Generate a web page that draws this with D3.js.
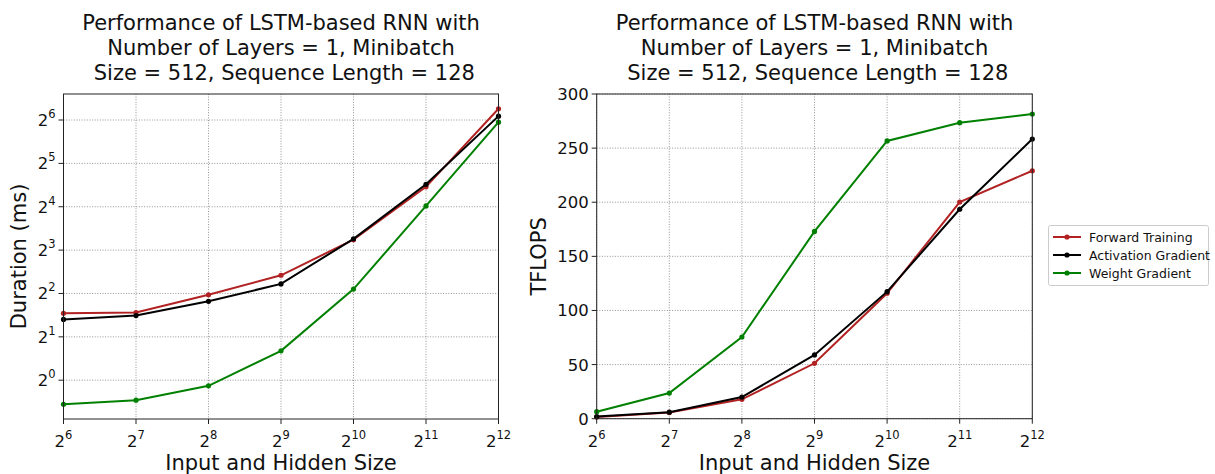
<!DOCTYPE html>
<html>
<head>
<meta charset="utf-8">
<script src="https://cdn.jsdelivr.net/npm/d3@7"></script>
<style>
  html, body { margin: 0; padding: 0; background: #fff; }
  svg { display: block; font-family: "DejaVu Sans", sans-serif; }
</style>
</head>
<body>
<svg id="chart" width="1215" height="474"></svg>
<script>
// ---- data ----
const sizes = [64, 128, 256, 512, 1024, 2048, 4096];
const xTickExponents = [6, 7, 8, 9, 10, 11, 12];
const seriesNames = ["Forward Training", "Activation Gradient", "Weight Gradient"];
const seriesColors = ["#b22222", "#000000", "#008000"];

// Duration (ms)
const durationForward = [2.91, 2.95, 3.92, 5.35, 9.45, 22.0, 76.6];
const durationActivation = [2.64, 2.81, 3.53, 4.66, 9.58, 22.9, 68.1];
const durationWeight = [0.681, 0.727, 0.914, 1.60, 4.29, 16.2, 61.8];
const durationTickExponents = [0, 1, 2, 3, 4, 5, 6];

// TFLOPS
const tflopsForward = [1.5, 5.7, 17.9, 51.2, 115.9, 200.2, 229.1];
const tflopsActivation = [2.0, 6.0, 20.0, 58.9, 117.4, 193.5, 258.4];
const tflopsWeight = [6.5, 23.7, 75.5, 173.0, 256.6, 273.5, 281.5];
const tflopsTicks = [0, 50, 100, 150, 200, 250, 300];

const titleLines = ["Performance of LSTM-based RNN with", "Number of Layers = 1, Minibatch", " Size = 512, Sequence Length = 128"];

const svg = d3.select("#chart");

function supLabel(sel, base, exp) {
  sel.append("tspan").text(base);
  sel.append("tspan").attr("font-size", "11.5px").attr("dy", "-8").text(exp);
}

function drawPanel(o) {
  const g = svg.append("g");
  const x = d3.scaleLog().base(2).domain([64, 4096]).range([o.left, o.right]);
  const y = o.y;

  // grid
  g.append("g").selectAll("line.gx").data(sizes).join("line")
    .attr("x1", d => x(d)).attr("x2", d => x(d))
    .attr("y1", o.top).attr("y2", o.bottom)
    .attr("stroke", "#8a8a8a").attr("stroke-width", 0.9).attr("stroke-dasharray", "1,1.6");
  g.append("g").selectAll("line.gy").data(o.yTicks).join("line")
    .attr("x1", o.left).attr("x2", o.right)
    .attr("y1", d => y(d)).attr("y2", d => y(d))
    .attr("stroke", "#8a8a8a").attr("stroke-width", 0.9).attr("stroke-dasharray", "1,1.6");

  // lines
  const line = d3.line().x((d, i) => x(sizes[i])).y(d => y(d));
  o.series.forEach((vals, si) => {
    g.append("path").datum(vals).attr("d", line)
      .attr("fill", "none").attr("stroke", seriesColors[si]).attr("stroke-width", 2);
    g.append("g").selectAll("circle").data(vals).join("circle")
      .attr("cx", (d, i) => x(sizes[i])).attr("cy", d => y(d)).attr("r", 2.6)
      .attr("fill", seriesColors[si]);
  });

  // frame
  g.append("rect").attr("x", o.left).attr("y", o.top)
    .attr("width", o.right - o.left).attr("height", o.bottom - o.top)
    .attr("fill", "none").attr("stroke", "#222").attr("stroke-width", 1);

  // x ticks
  const xt = g.append("g").selectAll("g").data(sizes).join("g");
  xt.append("line").attr("x1", d => x(d)).attr("x2", d => x(d))
    .attr("y1", o.bottom).attr("y2", o.bottom + 5).attr("stroke", "#222");
  xt.append("text").attr("x", d => x(d)).attr("y", o.bottom + 28)
    .attr("text-anchor", "middle").attr("font-size", "16.5px").attr("fill", "#111")
    .each(function(d, i) { supLabel(d3.select(this), "2", xTickExponents[i]); });

  // y ticks
  const yt = g.append("g").selectAll("g").data(o.yTicks).join("g");
  yt.append("line").attr("x1", o.left - 5).attr("x2", o.left)
    .attr("y1", d => y(d)).attr("y2", d => y(d)).attr("stroke", "#222");
  yt.append("text").attr("x", o.left - 8).attr("y", d => y(d) + 6)
    .attr("text-anchor", "end").attr("font-size", "16.5px").attr("fill", "#111")
    .each(function(d, i) {
      if (o.yExp) supLabel(d3.select(this), "2", o.yExp[i]);
      else d3.select(this).text(d);
    });

  // titles
  const cx = (o.left + o.right) / 2;
  titleLines.forEach((t, i) => {
    g.append("text").attr("x", cx).attr("y", 29.5 + i * 25)
      .attr("text-anchor", "middle").attr("font-size", "21px").attr("fill", "#111")
      .style("white-space", "pre").text(t);
  });

  // axis labels
  g.append("text").attr("x", cx).attr("y", 470)
    .attr("text-anchor", "middle").attr("font-size", "21px").attr("fill", "#111")
    .text("Input and Hidden Size");
  g.append("text")
    .attr("transform", `translate(${o.yLabelX},${(o.top + o.bottom) / 2}) rotate(-90)`)
    .attr("text-anchor", "middle").attr("font-size", "21px").attr("fill", "#111")
    .text(o.yLabel);
}

// left panel: log2 duration, matplotlib-style 5% log margins
const allDur = durationForward.concat(durationActivation, durationWeight);
const lmin = Math.log2(d3.min(allDur)), lmax = Math.log2(d3.max(allDur));
const pad = (lmax - lmin) * 0.05;
const yLeft = d3.scaleLog().base(2)
  .domain([Math.pow(2, lmin - pad), Math.pow(2, lmax + pad)])
  .range([419, 94]);

drawPanel({
  left: 63.5, right: 498.5, top: 94, bottom: 419,
  y: yLeft,
  yTicks: durationTickExponents.map(e => Math.pow(2, e)),
  yExp: durationTickExponents,
  series: [durationForward, durationActivation, durationWeight],
  yLabel: "Duration (ms)", yLabelX: 25.5
});

const yRight = d3.scaleLinear().domain([0, 300]).range([418.7, 94]);
drawPanel({
  left: 596.7, right: 1032.3, top: 94, bottom: 418.7,
  y: yRight,
  yTicks: tflopsTicks,
  yExp: null,
  series: [tflopsForward, tflopsActivation, tflopsWeight],
  yLabel: "TFLOPS", yLabelX: 545.5
});

// legend
const lg = svg.append("g");
lg.append("rect").attr("x", 1048.5).attr("y", 225.5).attr("width", 160).attr("height", 60)
  .attr("rx", 2).attr("fill", "#fff").attr("stroke", "#cccccc").attr("stroke-width", 1);
seriesNames.forEach((n, i) => {
  const yy = 237 + i * 18;
  lg.append("line").attr("x1", 1053).attr("x2", 1081).attr("y1", yy).attr("y2", yy)
    .attr("stroke", seriesColors[i]).attr("stroke-width", 2);
  lg.append("circle").attr("cx", 1067).attr("cy", yy).attr("r", 2.6).attr("fill", seriesColors[i]);
  lg.append("text").attr("x", 1089).attr("y", yy + 4.5).attr("font-size", "12.5px")
    .attr("fill", "#111").text(n);
});
</script>
</body>
</html>
